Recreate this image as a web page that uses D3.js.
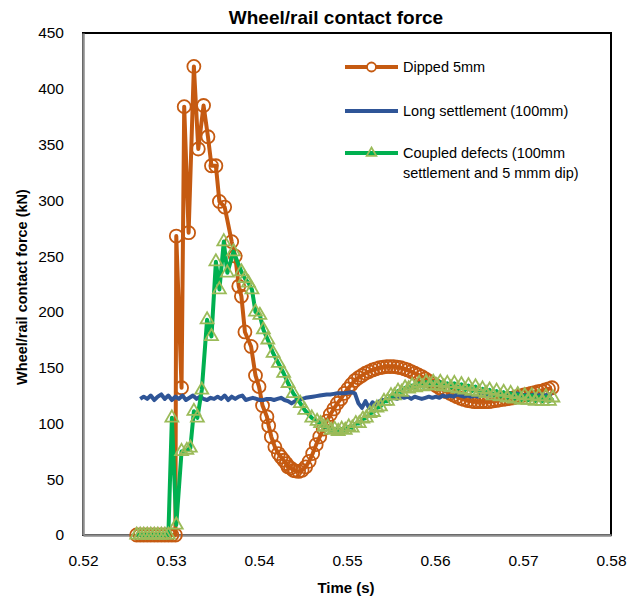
<!DOCTYPE html>
<html>
<head>
<meta charset="utf-8">
<script src="https://cdn.jsdelivr.net/npm/d3@7"></script>
<style>
  html, body { margin: 0; padding: 0; background: #fff; }
  svg { display: block; font-family: 'Liberation Sans', Arial, sans-serif; }
</style>
</head>
<body>
<svg id="chart" width="628" height="598"></svg>
<script>
// ---------- data ----------
const xTicks = [0.52, 0.53, 0.54, 0.55, 0.56, 0.57, 0.58];
const yTicks = [0, 50, 100, 150, 200, 250, 300, 350, 400, 450];
const seriesNames = ["Dipped 5mm", "Long settlement (100mm)", "Coupled defects (100mm", "settlement and 5 mmm dip)"];

const dipped = [
  [0.5261,0],[0.5265,0],[0.5269,0],[0.5273,0],[0.5277,0],[0.5281,0],[0.5285,0],[0.5289,0],[0.5293,0],[0.5297,0],[0.5301,0],[0.5305,0],
  [0.5306,268],[0.5312,132],[0.5315,384],[0.5320,271],[0.5326,420],[0.5331,346],[0.5337,385],[0.5342,357],
  [0.5346,331],[0.5351,331],[0.5355,299],[0.5361,294],[0.5369,263],[0.5373,250],[0.5377,223],[0.5380,214],
  [0.5384,182],[0.5391,169],[0.5396,143],[0.5400,133],[0.5404,116],[0.5409,106],[0.5411,98],[0.5414,88],
  [0.5418,79],[0.5422,73],[0.5425,70],[0.5428,67],[0.5431,64],[0.5433,61],[0.5436,60],[0.5439,58],
  [0.5441,57.5],[0.5445,57],[0.5449,58],[0.5453,61],[0.5457,66],[0.5461,73],[0.5465,81],[0.5469,88],
  [0.5473,95],[0.5477,102],[0.5481,108],[0.5485,113],[0.5489,118],[0.5493,122],[0.5497,127],[0.5501,131],
  [0.5505,135],[0.5509,138.5],[0.5513,141],[0.5517,143],[0.5521,145],[0.5525,146.5],[0.5529,148],[0.5533,149],
  [0.5537,150],[0.5541,150.5],[0.5545,151],[0.5549,151],[0.5553,151],[0.5557,150.5],[0.5561,150],[0.5565,149],
  [0.5569,148],[0.5573,146.5],[0.5577,145],[0.5581,143.5],[0.5585,142],[0.5589,140],[0.5593,138],[0.5597,136],
  [0.5601,134],[0.5605,132],[0.5609,130],[0.5613,128.5],[0.5617,127],[0.5621,125.5],[0.5625,124],[0.5629,122.5],
  [0.5633,121.5],[0.5637,120.5],[0.5641,120],[0.5645,119.5],[0.5649,119.5],[0.5653,119.5],[0.5657,119.5],[0.5661,119.5],
  [0.5665,120],[0.5669,120.5],[0.5673,121],[0.5677,121.5],[0.5681,122],[0.5685,122.5],[0.5689,123],[0.5693,124],
  [0.5697,124.5],[0.5701,125.5],[0.5705,126],[0.5709,127],[0.5713,127.5],[0.5717,128.5],[0.5721,129],[0.5725,130],
  [0.5729,131],[0.5733,132]
];

const settlement = [
  [0.5265,122],[0.5269,124],[0.5273,122],[0.5277,125],[0.5281,121],[0.5285,124],[0.5289,126],[0.5293,122],
  [0.5297,125],[0.5301,121],[0.5305,124],[0.5309,122],[0.5313,125],[0.5317,121],[0.5321,123],[0.5325,125],
  [0.5329,122],[0.5333,124],[0.5337,122],[0.5341,121],[0.5345,123],[0.5349,122],[0.5353,124],[0.5357,122],
  [0.5361,125],[0.5365,121],[0.5369,124],[0.5373,122],[0.5377,124],[0.5381,125],[0.5385,121],[0.5389,122],
  [0.5393,123],[0.5397,122],[0.5401,121],[0.5405,121],[0.5409,122],[0.5413,122],[0.5417,121],[0.5421,122],
  [0.5425,123],[0.5429,121],[0.5433,120],[0.5437,118],[0.5441,120],[0.5445,121],[0.5449,122],[0.5453,123],
  [0.5457,123.5],[0.5461,124],[0.5465,124.5],[0.5469,125],[0.5473,125.5],[0.5477,126],[0.5481,126],[0.5485,126.5],
  [0.5489,127],[0.5493,127],[0.5497,127],[0.5501,127.5],[0.5505,128],[0.5509,127],[0.5513,118],[0.5517,114],
  [0.5521,120],[0.5525,114],[0.5529,119],[0.5533,116],[0.5537,120],[0.5541,121],[0.5545,121],[0.5549,122],
  [0.5553,123],[0.5557,122],[0.5561,124],[0.5565,123],[0.5569,124],[0.5573,122],[0.5577,124],[0.5581,123],
  [0.5585,122],[0.5589,123],[0.5593,124],[0.5597,123],[0.5601,124],[0.5605,123],[0.5609,125],[0.5613,124],
  [0.5617,125],[0.5621,124],[0.5625,126],[0.5629,125],[0.5633,124],[0.5637,125],[0.5641,124],[0.5645,125],
  [0.5649,124],[0.5653,125],[0.5657,126],[0.5661,125],[0.5665,126],[0.5669,127],[0.5673,126],[0.5677,127],
  [0.5681,126],[0.5685,127],[0.5689,126],[0.5693,127],[0.5697,126],[0.5701,125],[0.5705,126],[0.5709,125],
  [0.5713,126],[0.5717,125],[0.5721,126],[0.5725,125],[0.5729,126],[0.5733,125]
];

const coupled = [
  [0.5261,0],[0.5265,0],[0.5269,0],[0.5273,0],[0.5277,0],[0.5281,0],[0.5285,0],[0.5289,0],[0.5293,0],[0.5297,0],
  [0.5301,105],[0.5306,9],[0.5312,75],[0.5318,76],[0.5322,78],[0.5326,111],[0.5330,105],[0.5335,130],
  [0.5341,193],[0.5346,178],[0.5351,245],[0.5355,220],[0.5360,263],[0.5364,235],[0.5371,254],[0.5380,236],
  [0.5384,230],[0.5388,226],[0.5392,220],[0.5396,200],[0.5401,197],[0.5405,184],[0.5410,175],[0.5416,163],
  [0.5422,154],[0.5428,145],[0.5433,136],[0.5439,127],[0.5447,118],[0.5452,112],[0.5460,105],[0.5466,102],
  [0.5470,100],[0.5474,97],[0.5478,97],[0.5482,94],[0.5486,95],[0.5490,93],[0.5494,95],[0.5498,94],
  [0.5502,97],[0.5506,96],[0.5510,100],[0.5514,100],[0.5518,104],[0.5522,105],[0.5526,109],[0.5530,110],
  [0.5534,114],[0.5538,115],[0.5542,120],[0.5546,120],[0.5550,125],[0.5554,125],[0.5558,129],[0.5562,128],
  [0.5566,132],[0.5570,131],[0.5574,134],[0.5578,132],[0.5582,136],[0.5586,133],[0.5590,137],[0.5594,134],
  [0.5598,137],[0.5602,134],[0.5606,137],[0.5610,133],[0.5614,136],[0.5618,132],[0.5622,136],[0.5626,131],
  [0.5630,135],[0.5634,130],[0.5638,134],[0.5642,129],[0.5646,133],[0.5650,128],[0.5654,131],[0.5658,127],
  [0.5662,130],[0.5666,125],[0.5670,129],[0.5674,124],[0.5678,128],[0.5682,123],[0.5686,127],[0.5690,122],
  [0.5694,126],[0.5698,121],[0.5702,125],[0.5706,121],[0.5710,125],[0.5714,120],[0.5718,124],[0.5722,120],
  [0.5726,124],[0.5730,120],[0.5734,123]
];

// ---------- drawing ----------
const ORANGE = "#C55A11", BLUE = "#2F5597", GREEN = "#00B050", TRI = "#9BBB59";
const svg = d3.select("#chart");
const L = 83, R = 611, T = 33, B = 535;
const x = d3.scaleLinear().domain([0.52, 0.58]).range([L, R]);
const y = d3.scaleLinear().domain([0, 450]).range([B, T]);

svg.append("rect").attr("width", 628).attr("height", 598).attr("fill", "#fff");

// title
svg.append("text").attr("x", 336).attr("y", 24).attr("text-anchor", "middle")
  .attr("font-size", 19).attr("font-weight", "bold").attr("fill", "#000")
  .text("Wheel/rail contact force");

// plot frame
svg.append("rect").attr("x", L).attr("y", T).attr("width", R - L).attr("height", B - T)
  .attr("fill", "none").attr("stroke", "#000").attr("stroke-width", 2);

// axes
const xAxis = d3.axisBottom(x).tickValues(xTicks).tickFormat(d3.format(".2f")).tickSize(0).tickPadding(20);
const yAxis = d3.axisLeft(y).tickValues(yTicks).tickFormat(d3.format("d")).tickSize(0).tickPadding(19);
const gx = svg.append("g").attr("transform", `translate(0,${B})`).call(xAxis);
const gy = svg.append("g").attr("transform", `translate(${L},0)`).call(yAxis);
[gx, gy].forEach(g => {
  g.select(".domain").attr("stroke", "#8c8c8c").attr("stroke-width", 2.5);
  g.selectAll("text").attr("font-size", 15.5).attr("fill", "#000")
    .attr("font-family", "'Liberation Sans', Arial, sans-serif");
});

// axis titles
svg.append("text").attr("x", 346).attr("y", 593).attr("text-anchor", "middle")
  .attr("font-size", 15).attr("font-weight", "bold").text("Time (s)");
svg.append("text").attr("transform", "translate(27,287) rotate(-90)").attr("text-anchor", "middle")
  .attr("font-size", 14.5).attr("font-weight", "bold").text("Wheel/rail contact force (kN)");

const line = d3.line().x(d => x(d[0])).y(d => y(d[1]));
const triPath = d3.symbol().type(d3.symbolTriangle).size(72);

// series 1: dipped
svg.append("path").datum(dipped).attr("d", line).attr("fill", "none")
  .attr("stroke", ORANGE).attr("stroke-width", 4).attr("stroke-linejoin", "round");
svg.append("g").selectAll("circle").data(dipped).join("circle")
  .attr("cx", d => x(d[0])).attr("cy", d => y(d[1])).attr("r", 6.5)
  .attr("fill", "none").attr("stroke", ORANGE).attr("stroke-width", 1.8);

// series 2: settlement
svg.append("path").datum(settlement).attr("d", line).attr("fill", "none")
  .attr("stroke", BLUE).attr("stroke-width", 4).attr("stroke-linejoin", "round");

// series 3: coupled
svg.append("path").datum(coupled).attr("d", line).attr("fill", "none")
  .attr("stroke", GREEN).attr("stroke-width", 4).attr("stroke-linejoin", "round");
svg.append("g").selectAll("path").data(coupled).join("path")
  .attr("transform", d => `translate(${x(d[0])},${y(d[1])})`).attr("d", triPath)
  .attr("fill", "none").attr("stroke", TRI).attr("stroke-width", 1.8);

// legend
const lg = svg.append("g");
const lx0 = 345, lx1 = 398, tx = 403;
lg.append("line").attr("x1", lx0).attr("x2", lx1).attr("y1", 67).attr("y2", 67).attr("stroke", ORANGE).attr("stroke-width", 4);
lg.append("circle").attr("cx", (lx0 + lx1) / 2).attr("cy", 67).attr("r", 4.5).attr("fill", "#fff").attr("stroke", ORANGE).attr("stroke-width", 1.8);
lg.append("line").attr("x1", lx0).attr("x2", lx1).attr("y1", 111).attr("y2", 111).attr("stroke", BLUE).attr("stroke-width", 4);
lg.append("line").attr("x1", lx0).attr("x2", lx1).attr("y1", 153).attr("y2", 153).attr("stroke", GREEN).attr("stroke-width", 4);
lg.append("path").attr("transform", `translate(${(lx0 + lx1) / 2},153)`).attr("d", d3.symbol().type(d3.symbolTriangle).size(40))
  .attr("fill", "none").attr("stroke", TRI).attr("stroke-width", 1.8);
const ly = [67, 111, 153, 173];
lg.selectAll("text").data(seriesNames).join("text")
  .attr("x", tx).attr("y", (d, i) => ly[i] + 5).attr("font-size", 14.5).attr("fill", "#000").text(d => d);
</script>
</body>
</html>
